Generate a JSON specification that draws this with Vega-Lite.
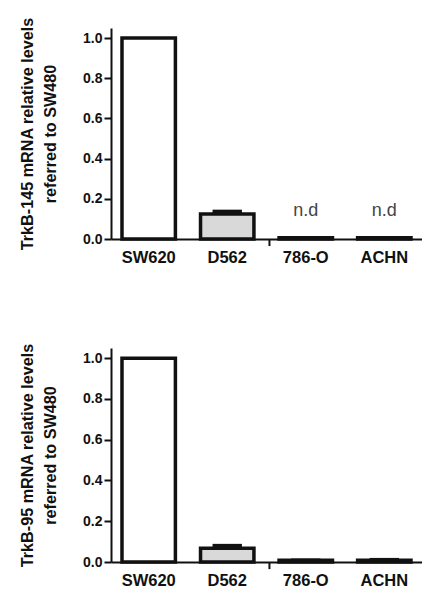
{
  "$schema": "https://vega.github.io/schema/vega-lite/v6.json",
  "padding": {"left": 19, "top": 16, "right": 0, "bottom": 0},
  "bounds": "flush",
  "spacing": 109,
  "config": {
    "font": "Liberation Sans",
    "view": {"stroke": null},
    "axis": {
      "domainColor": "#111", "domainWidth": 2, "tickColor": "#111", "tickWidth": 2,
      "labelFont": "Liberation Sans", "labelFontWeight": "bold", "labelColor": "#111",
      "titleFont": "Liberation Sans", "titleFontWeight": "bold", "titleColor": "#111", "grid": false
    }
  },
  "datasets": {
    "trkb145": [
      {"cell": "SW620", "value": 1.0, "upper": 1.0, "note": null},
      {"cell": "D562", "value": 0.125, "upper": 0.146, "note": null},
      {"cell": "786-O", "value": 0.006, "upper": 0.015, "note": "n.d"},
      {"cell": "ACHN", "value": 0.006, "upper": 0.015, "note": "n.d"}
    ],
    "trkb95": [
      {"cell": "SW620", "value": 1.0, "upper": 1.0, "note": null},
      {"cell": "D562", "value": 0.067, "upper": 0.089, "note": null},
      {"cell": "786-O", "value": 0.008, "upper": 0.017, "note": null},
      {"cell": "ACHN", "value": 0.009, "upper": 0.02, "note": null}
    ]
  },
  "vconcat": [
    {
      "width": 311, "height": 211,
      "data": {"name": "trkb145"},
      "encoding": {
        "x": {"field": "cell", "type": "nominal", "sort": null,
          "scale": {"domain": ["SW620", "D562", "786-O", "ACHN"], "paddingInner": 0.32, "paddingOuter": 0.14},
          "axis": {"title": null, "ticks": false, "labelFontSize": 16.5, "labelPadding": 10, "labelAngle": 0}}
      },
      "layer": [
        {
          "mark": {"type": "bar", "stroke": "#111", "strokeWidth": 3.5},
          "encoding": {
            "y": {"field": "value", "type": "quantitative", "scale": {"domain": [0, 1.05], "nice": false},
              "axis": {"values": [0, 0.2, 0.4, 0.6, 0.8, 1.0], "format": ".1f", "tickSize": 7, "labelFontSize": 14, "labelPadding": 2, "titlePadding": 24, "titleFontSize": 16.2, "titleLineHeight": 23,
                "title": ["TrkB-145 mRNA relative levels", "referred to SW480"]}},
            "fill": {"field": "cell", "type": "nominal", "scale": {"domain": ["SW620", "D562", "786-O", "ACHN"], "range": ["#ffffff", "#d9d9d9", "#ffffff", "#ffffff"]}, "legend": null}
          }
        },
        {
          "mark": {"type": "bar", "fill": "#111", "width": {"band": 0.55}},
          "encoding": {"y": {"field": "value", "type": "quantitative"}, "y2": {"field": "upper"}}
        },
        {
          "transform": [{"filter": "datum.note"}],
          "mark": {"type": "text", "fontSize": 18, "color": "#444", "baseline": "middle"},
          "encoding": {"y": {"datum": 0.14}, "text": {"field": "note"}}
        },
        {
          "transform": [{"filter": "datum.cell === '786-O'"}],
          "mark": {"type": "rule", "strokeWidth": 2, "color": "#111"},
          "encoding": {
            "x": {"field": "cell", "type": "nominal", "bandPosition": -0.18},
            "y": {"datum": 0}, "y2": {"datum": -0.035}
          }
        }
      ]
    },
    {
      "width": 311, "height": 214,
      "data": {"name": "trkb95"},
      "encoding": {
        "x": {"field": "cell", "type": "nominal", "sort": null,
          "scale": {"domain": ["SW620", "D562", "786-O", "ACHN"], "paddingInner": 0.32, "paddingOuter": 0.14},
          "axis": {"title": null, "ticks": false, "labelFontSize": 16.5, "labelPadding": 10, "labelAngle": 0}}
      },
      "layer": [
        {
          "mark": {"type": "bar", "stroke": "#111", "strokeWidth": 3.5},
          "encoding": {
            "y": {"field": "value", "type": "quantitative", "scale": {"domain": [0, 1.05], "nice": false},
              "axis": {"values": [0, 0.2, 0.4, 0.6, 0.8, 1.0], "format": ".1f", "tickSize": 7, "labelFontSize": 14, "labelPadding": 2, "titlePadding": 24, "titleFontSize": 16.2, "titleLineHeight": 23,
                "title": ["TrkB-95 mRNA relative levels", "referred to SW480"]}},
            "fill": {"field": "cell", "type": "nominal", "scale": {"domain": ["SW620", "D562", "786-O", "ACHN"], "range": ["#ffffff", "#d9d9d9", "#ffffff", "#ffffff"]}, "legend": null}
          }
        },
        {
          "mark": {"type": "bar", "fill": "#111", "width": {"band": 0.55}},
          "encoding": {"y": {"field": "value", "type": "quantitative"}, "y2": {"field": "upper"}}
        },
        {
          "transform": [{"filter": "datum.cell === '786-O'"}],
          "mark": {"type": "rule", "strokeWidth": 2, "color": "#111"},
          "encoding": {
            "x": {"field": "cell", "type": "nominal", "bandPosition": -0.18},
            "y": {"datum": 0}, "y2": {"datum": -0.035}
          }
        }
      ]
    }
  ]
}
